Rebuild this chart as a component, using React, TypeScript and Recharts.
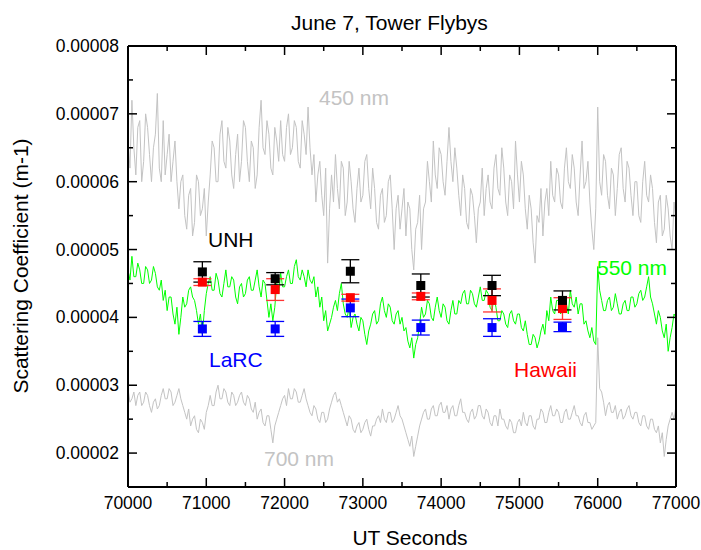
import React from "react";
import {
  ComposedChart,
  Line,
  Scatter,
  ErrorBar,
  XAxis,
  YAxis,
} from "recharts";

// values in units of 1e-5 m-1, sampled every 25 s from 70000 s
const TIME_START = 70000;
const TIME_STEP = 25;

const S450 = [
  6.6, 6.2, 7.2, 6.5, 6.1, 6.8, 6.9, 6.0, 6.3, 7.0, 6.8, 6.4, 6.0, 6.5, 6.7, 7.3, 6.2, 6.0, 6.9, 6.1,
  6.4, 6.7, 6.0, 6.3, 6.6, 6.0, 5.6, 6.0, 6.1, 5.5, 5.3, 5.8, 5.9, 5.2, 5.4, 6.1, 6.0, 5.5, 5.6, 5.9,
  5.2, 5.7, 6.1, 6.6, 6.5, 6.0, 6.0, 6.7, 6.9, 6.3, 6.2, 6.8, 6.6, 6.1, 5.9, 6.4, 6.7, 6.0, 6.3, 6.9,
  6.8, 6.3, 6.0, 6.6, 6.5, 5.9, 6.1, 6.8, 7.2, 6.5, 6.4, 6.9, 6.7, 6.2, 6.1, 6.8, 6.6, 6.3, 6.9, 6.4,
  6.3, 6.8, 7.0, 6.4, 6.5, 6.9, 6.8, 6.3, 6.2, 6.9, 6.7, 6.4, 7.1, 6.5, 6.1, 6.4, 5.7, 6.1, 6.3, 5.8,
  5.5, 6.2, 4.8, 5.6, 6.1, 5.7, 6.4, 5.9, 5.6, 6.3, 6.2, 5.5, 5.7, 6.3, 6.0, 5.6, 5.4, 5.9, 6.2, 5.7,
  5.8, 6.3, 6.4, 5.9, 5.6, 6.2, 5.9, 5.4, 5.3, 5.8, 5.9, 5.4, 5.5, 6.0, 6.1, 5.6, 5.0, 5.6, 5.8, 5.3,
  5.6, 5.9, 5.2, 5.7, 5.6, 5.0, 4.7, 5.3, 5.4, 5.8, 5.0, 5.6, 5.7, 6.3, 6.0, 5.7, 6.6, 6.1, 5.9, 6.5,
  6.4, 6.0, 5.8, 6.3, 6.8, 6.3, 6.0, 6.5, 6.2, 5.8, 5.5, 6.1, 5.9, 5.4, 5.3, 5.9, 5.8, 5.5, 5.1, 5.6,
  5.7, 6.2, 5.5, 5.9, 6.1, 5.7, 5.6, 6.2, 6.4, 5.9, 5.8, 6.5, 6.2, 5.7, 5.5, 6.1, 6.0, 5.6, 6.6, 6.1,
  5.7, 6.3, 6.1, 5.6, 5.3, 5.8, 5.6, 5.1, 4.8, 5.5, 5.4, 5.9, 5.2, 5.7, 5.9, 5.5, 6.3, 5.8, 5.7, 6.2,
  6.1, 5.7, 5.6, 6.2, 6.5, 6.0, 5.9, 6.4, 6.2, 5.7, 5.5, 6.1, 6.6, 5.9, 6.0, 6.3, 5.7, 5.3, 5.0, 5.6,
  7.1, 6.0, 5.8, 6.4, 6.3, 5.8, 5.6, 6.2, 6.1, 5.5, 5.9, 6.4, 6.5, 5.9, 5.7, 6.3, 6.2, 5.8, 5.5, 6.0,
  6.0, 5.5, 5.4, 6.0, 6.3, 5.8, 5.7, 6.1, 5.9, 5.4, 5.1, 5.7, 5.8, 5.2, 5.3, 5.8, 5.6, 5.2, 5.0, 5.7,
  5.4,
];

const S550 = [
  4.7, 4.55, 4.9, 4.6, 4.6, 4.8, 4.7, 4.5, 4.5, 4.75, 4.7, 4.5, 4.55, 4.75, 4.65, 4.45, 4.4, 4.55, 4.25, 4.4,
  4.1, 4.3, 4.3, 4.05, 3.9, 4.15, 3.75, 4.0, 4.3, 4.15, 4.2, 4.4, 4.45, 4.3, 4.25, 4.1, 3.9, 4.05, 3.75, 4.1,
  4.35, 4.5, 4.6, 4.4, 4.4, 4.65, 4.55, 4.35, 4.3, 4.5, 4.7, 4.45, 4.45, 4.6, 4.55, 4.3, 4.2, 4.45, 4.5, 4.3,
  4.35, 4.55, 4.6, 4.4, 4.4, 4.55, 4.7, 4.45, 4.3, 4.55, 4.5, 4.25, 4.0, 4.2, 3.95, 4.15, 4.5, 4.35, 4.65, 4.45,
  4.45, 4.6, 4.7, 4.5, 4.5, 4.75, 4.85, 4.6, 4.55, 4.7, 4.6, 4.45, 4.7, 4.55, 4.5, 4.6, 4.3, 4.45, 4.15, 4.3,
  3.95, 4.1, 3.8, 3.9, 4.0, 4.15, 4.25, 4.1, 4.35, 4.5, 4.2, 4.05, 4.0, 4.15, 3.85, 4.0, 4.05, 3.9, 3.8, 4.0,
  3.95, 3.75, 3.6, 3.8, 3.9, 4.05, 4.1, 3.9, 3.95, 4.2, 4.3, 4.1, 4.0, 4.2, 4.15, 3.95, 3.9, 4.05, 4.1, 3.9,
  4.0, 3.8, 3.85, 3.65, 3.55, 3.7, 3.4, 3.6, 3.7, 3.9, 4.15, 4.0, 4.05, 4.25, 4.2, 4.0, 3.95, 4.15, 4.3, 4.1,
  4.0, 4.2, 4.15, 3.95, 3.9, 4.1, 4.25, 4.05, 4.05, 4.25, 4.2, 4.35, 4.4, 4.2, 4.2, 4.4, 4.35, 4.2, 4.15, 4.3,
  4.45, 4.25, 4.25, 4.4, 4.35, 4.15, 4.1, 4.3, 4.15, 3.95, 3.95, 4.1, 4.05, 3.9, 3.85, 4.05, 4.1, 3.95, 3.9, 4.05,
  4.05, 3.85, 3.8, 3.95, 3.75, 3.6, 3.6, 3.75, 3.7, 3.55, 3.65, 3.8, 3.9, 3.75, 4.1, 3.95, 4.3, 4.1, 4.05, 4.25,
  4.25, 4.05, 4.1, 4.3, 4.2, 4.05, 4.4, 4.2, 4.15, 4.3, 4.05, 4.2, 4.2, 3.9, 3.95, 3.8, 3.7, 3.85, 3.65, 3.6,
  4.75, 4.4, 4.25, 4.1, 4.1, 4.25, 4.3, 4.1, 4.15, 4.35, 4.2, 4.05, 4.05, 4.2, 4.25, 4.1, 4.1, 4.3, 4.3, 4.15,
  4.2, 4.35, 4.4, 4.25, 4.3, 4.45, 4.6, 4.3, 4.2, 4.05, 3.9, 4.1, 4.0, 3.8, 3.7, 3.9, 3.5, 3.7, 3.85, 4.05,
  4.0,
];

const S700 = [
  2.95, 2.75, 2.8, 2.9, 2.7, 2.85, 2.9, 2.7, 2.75, 2.9, 2.85, 2.7, 2.6, 2.75, 2.8, 2.65, 2.7, 2.85, 2.95, 2.8,
  2.8, 2.95, 2.9, 2.7, 2.75, 2.85, 2.95, 2.8, 2.7, 2.6, 2.5, 2.65, 2.4, 2.5, 2.55, 2.35, 2.3, 2.5, 2.45, 2.35,
  2.6, 2.7, 2.85, 2.7, 2.7, 2.9, 3.0, 2.8, 2.8, 2.95, 2.9, 2.75, 2.7, 2.9, 2.85, 2.7, 2.75, 2.85, 2.9, 2.75,
  2.7, 2.85, 2.8, 2.65, 2.6, 2.75, 2.5, 2.6, 2.65, 2.45, 2.4, 2.55, 2.55, 2.35, 2.15, 2.4, 2.5, 2.6, 2.7, 2.8,
  2.85, 2.7, 2.95, 2.8, 2.8, 2.95, 2.9, 2.75, 2.75, 2.85, 2.95, 2.8, 2.7, 2.6, 2.55, 2.7, 2.65, 2.5, 2.45, 2.6,
  2.6, 2.45, 2.5, 2.65, 2.75, 2.85, 2.9, 2.75, 2.8, 2.7, 2.6, 2.5, 2.4, 2.55, 2.5, 2.35, 2.3, 2.4, 2.45, 2.3,
  2.35, 2.45, 2.5, 2.35, 2.25, 2.4, 2.4, 2.5, 2.55, 2.45, 2.65, 2.5, 2.45, 2.6, 2.6, 2.45, 2.5, 2.6, 2.7, 2.55,
  2.5, 2.4, 2.3, 2.2, 2.1, 2.25, 1.95, 2.1, 2.25, 2.4, 2.5, 2.6, 2.65, 2.5, 2.5, 2.65, 2.7, 2.55, 2.55, 2.7,
  2.75, 2.6, 2.6, 2.7, 2.5, 2.65, 2.7, 2.55, 2.55, 2.7, 2.8, 2.6, 2.6, 2.5, 2.45, 2.6, 2.65, 2.5, 2.55, 2.7,
  2.7, 2.55, 2.5, 2.65, 2.6, 2.45, 2.4, 2.55, 2.55, 2.4, 2.65, 2.5, 2.5, 2.4, 2.35, 2.5, 2.45, 2.3, 2.3, 2.45,
  2.5, 2.4, 2.6, 2.45, 2.4, 2.55, 2.55, 2.4, 2.35, 2.5, 2.5, 2.65, 2.6, 2.45, 2.45, 2.6, 2.7, 2.55, 2.55, 2.65,
  2.6, 2.45, 2.45, 2.6, 2.65, 2.5, 2.5, 2.6, 2.7, 2.55, 2.55, 2.45, 2.4, 2.55, 2.6, 2.45, 2.45, 2.35, 2.4, 2.45,
  3.7, 2.95, 2.9, 2.75, 2.55, 2.7, 2.75, 2.6, 2.6, 2.7, 2.5, 2.6, 2.65, 2.5, 2.55, 2.65, 2.7, 2.55, 2.5, 2.6,
  2.6, 2.45, 2.4, 2.55, 2.55, 2.4, 2.35, 2.5, 2.5, 2.35, 2.3, 2.4, 2.15, 2.3, 1.95, 2.2, 2.4, 2.5, 2.6, 2.5,
  2.7,
];

// tower flyby points
const FLYBY_T = [70950, 71880, 72840, 73740, 74650, 75550];
const UNH = [4.67, 4.57, 4.68, 4.47, 4.47, 4.25];
const UNH_ERR = [0.15, 0.09, 0.17, 0.17, 0.15, 0.14];
const HAWAII = [4.52, 4.41, 4.29, 4.31, 4.25, 4.13];
const HAWAII_ERR = [0.05, 0.16, 0.05, 0.05, 0.17, 0.16];
const LARC = [3.83, 3.83, 4.14, 3.85, 3.85, 3.86];
const LARC_ERR = [0.11, 0.11, 0.13, 0.11, 0.13, 0.07];

const X_TICKS = [
  70000, 70500, 71000, 71500, 72000, 72500, 73000, 73500, 74000, 74500,
  75000, 75500, 76000, 76500, 77000,
];
const Y_TICKS = [2, 2.5, 3, 3.5, 4, 4.5, 5, 5.5, 6, 6.5, 7, 7.5, 8];

const FONT = "'Liberation Sans', Arial, sans-serif";
const GRAY = "#c3c3c3";
const GREEN = "#00ff00";

const table = S450.map((v, i) => ({
  t: TIME_START + i * TIME_STEP,
  s450: v,
  s550: S550[i],
  s700: S700[i],
}));

const points = (vals: number[], errs: number[]) =>
  FLYBY_T.map((t, i) => ({ t, v: vals[i], err: errs[i] }));

const square = (color: string) => (p: any) =>
  <rect x={p.cx - 4.5} y={p.cy - 4.5} width={9} height={9} fill={color} />;

const BottomTick = (p: any) => {
  const major = p.payload.value % 1000 === 0;
  return (
    <g>
      <line x1={p.x} x2={p.x} y1={p.y} y2={p.y - (major ? 9 : 5)} stroke="#000" strokeWidth={1.5} />
      {major && (
        <text x={p.x} y={p.y + 22} textAnchor="middle" fontSize={17.5} fontFamily={FONT} fill="#000">
          {p.payload.value}
        </text>
      )}
    </g>
  );
};

const TopTick = (p: any) => {
  const major = p.payload.value % 1000 === 0;
  return <line x1={p.x} x2={p.x} y1={p.y} y2={p.y + (major ? 9 : 5)} stroke="#000" strokeWidth={1.5} />;
};

const LeftTick = (p: any) => {
  const major = Number.isInteger(p.payload.value);
  return (
    <g>
      <line x1={p.x} x2={p.x + (major ? 9 : 5)} y1={p.y} y2={p.y} stroke="#000" strokeWidth={1.5} />
      {major && (
        <text x={p.x - 9} y={p.y + 6} textAnchor="end" fontSize={17.5} fontFamily={FONT} fill="#000">
          {(p.payload.value / 1e5).toFixed(5)}
        </text>
      )}
    </g>
  );
};

const RightTick = (p: any) => {
  const major = Number.isInteger(p.payload.value);
  return <line x1={p.x} x2={p.x - (major ? 9 : 5)} y1={p.y} y2={p.y} stroke="#000" strokeWidth={1.5} />;
};

const axisLine = { stroke: "#000", strokeWidth: 2 };

export default function App() {
  return (
    <div style={{ position: "absolute", left: 0, top: 0, width: 701, height: 550, background: "#fff" }}>
      <ComposedChart
        width={701}
        height={550}
        data={table}
        margin={{ top: 45, right: 24, bottom: 33, left: 0 }}
      >
        <XAxis
          xAxisId="b"
          dataKey="t"
          type="number"
          domain={[70000, 77000]}
          ticks={X_TICKS}
          allowDataOverflow
          height={30}
          tickSize={0}
          tickMargin={0}
          tickLine={false}
          axisLine={axisLine}
          tick={<BottomTick />}
          interval={0}
        />
        <XAxis
          xAxisId="t"
          dataKey="t"
          type="number"
          orientation="top"
          domain={[70000, 77000]}
          ticks={X_TICKS}
          allowDataOverflow
          height={1}
          tickSize={0}
          tickMargin={0}
          tickLine={false}
          axisLine={axisLine}
          tick={<TopTick />}
          interval={0}
        />
        <YAxis
          yAxisId="l"
          type="number"
          domain={[1.5, 8]}
          ticks={Y_TICKS}
          allowDataOverflow
          width={128}
          tickSize={0}
          tickMargin={0}
          tickLine={false}
          axisLine={axisLine}
          tick={<LeftTick />}
          interval={0}
        />
        <YAxis
          yAxisId="r"
          type="number"
          orientation="right"
          domain={[1.5, 8]}
          ticks={Y_TICKS}
          allowDataOverflow
          width={1}
          tickSize={0}
          tickMargin={0}
          tickLine={false}
          axisLine={axisLine}
          tick={<RightTick />}
          interval={0}
        />
        <Line xAxisId="b" yAxisId="l" dataKey="s450" stroke={GRAY} strokeWidth={1} dot={false} isAnimationActive={false} />
        <Line xAxisId="b" yAxisId="l" dataKey="s700" stroke={GRAY} strokeWidth={1} dot={false} isAnimationActive={false} />
        <Line xAxisId="b" yAxisId="l" dataKey="s550" stroke={GREEN} strokeWidth={1} dot={false} isAnimationActive={false} />
        <Scatter xAxisId="b" yAxisId="l" data={points(LARC, LARC_ERR)} dataKey="v" shape={square("#0000ff")} isAnimationActive={false}>
          <ErrorBar dataKey="err" direction="y" width={9} stroke="#0000ff" strokeWidth={1.3} />
        </Scatter>
        <Scatter xAxisId="b" yAxisId="l" data={points(HAWAII, HAWAII_ERR)} dataKey="v" shape={square("#ff0000")} isAnimationActive={false}>
          <ErrorBar dataKey="err" direction="y" width={9} stroke="#ff3333" strokeWidth={1.3} />
        </Scatter>
        <Scatter xAxisId="b" yAxisId="l" data={points(UNH, UNH_ERR)} dataKey="v" shape={square("#000000")} isAnimationActive={false}>
          <ErrorBar dataKey="err" direction="y" width={9} stroke="#000000" strokeWidth={1.3} />
        </Scatter>
      </ComposedChart>
      <svg
        width={701}
        height={550}
        style={{ position: "absolute", left: 0, top: 0, pointerEvents: "none" }}
        fontFamily={FONT}
      >
        <text x={291} y={30} fontSize={21}>June 7, Tower Flybys</text>
        <text x={410} y={545} textAnchor="middle" fontSize={21}>UT Seconds</text>
        <text x={28} y={266} textAnchor="middle" fontSize={21} transform="rotate(-90 28 266)">
          Scattering Coefficient (m-1)
        </text>
        <text x={319} y={105} fontSize={21} fill={GRAY}>450 nm</text>
        <text x={208} y={247} fontSize={21} fill="#000">UNH</text>
        <text x={209} y={367} fontSize={21} fill="#0000ff">LaRC</text>
        <text x={514} y={377} fontSize={21} fill="#ff0000">Hawaii</text>
        <text x={597} y={275} fontSize={21} fill={GREEN}>550 nm</text>
        <text x={264} y={466} fontSize={21} fill={GRAY}>700 nm</text>
      </svg>
    </div>
  );
}
